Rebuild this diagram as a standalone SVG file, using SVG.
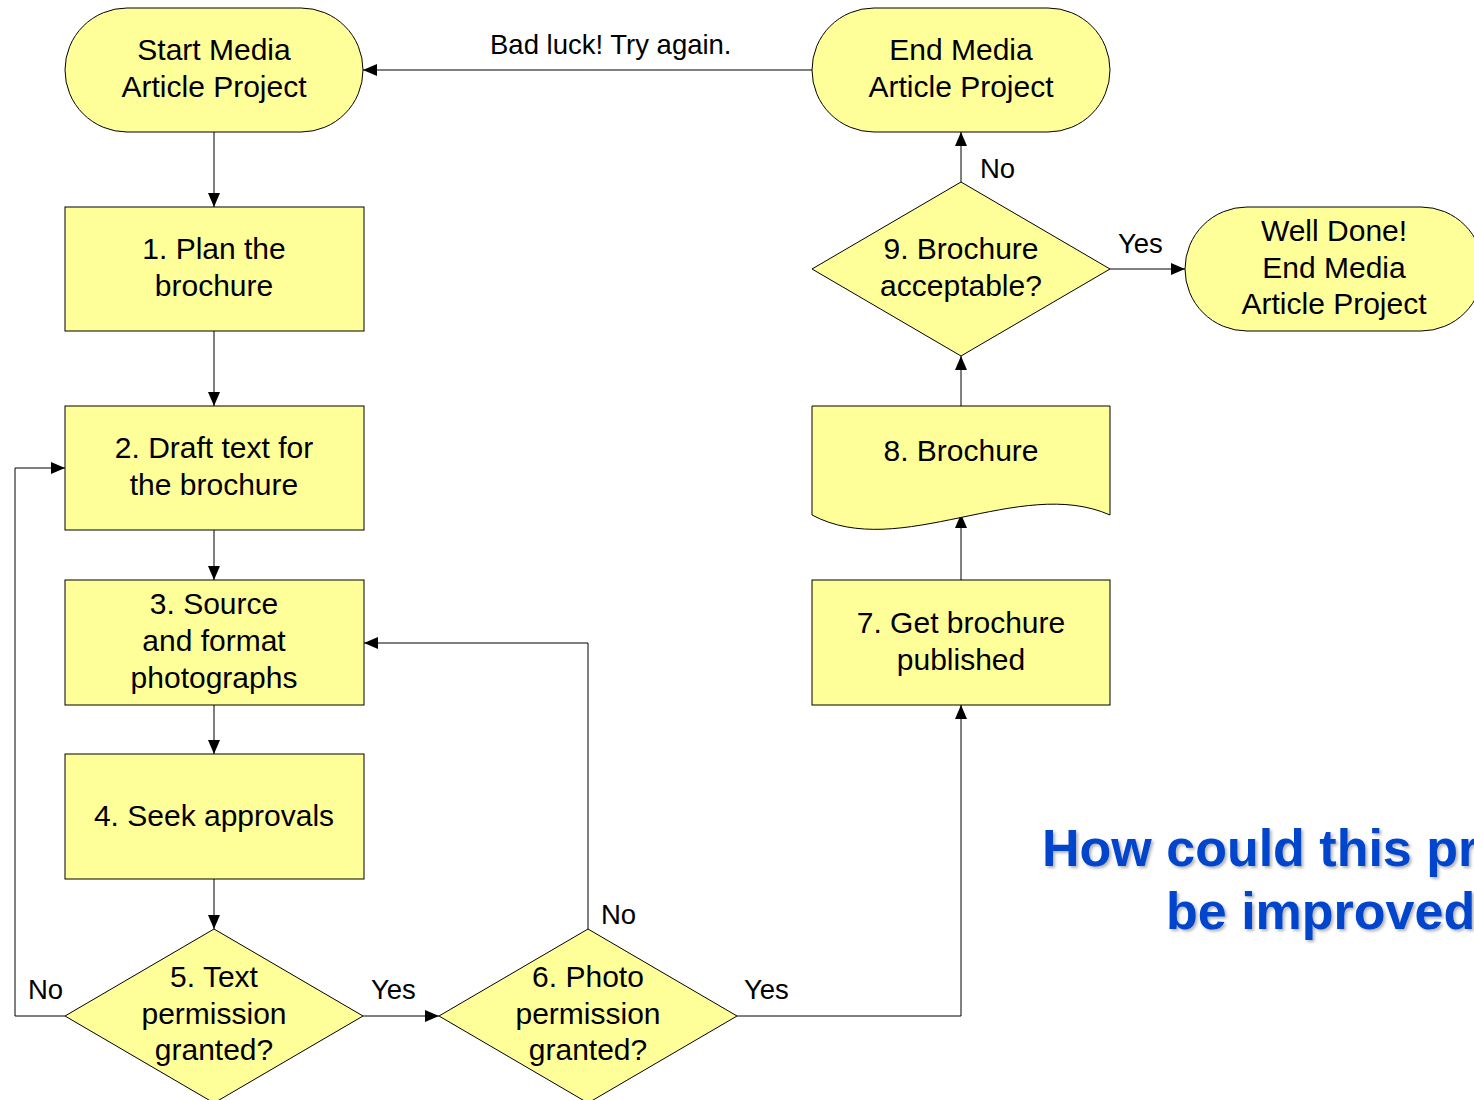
<svg xmlns="http://www.w3.org/2000/svg" width="1474" height="1100" viewBox="0 0 1474 1100">
  <style>
    .shape { fill: #FFFF99; stroke: #000; stroke-width: 1; }
    .t { font-family: "Liberation Sans", Arial, sans-serif; font-size: 30px; fill: #000; text-anchor: middle; }
    .tn { font-family: "Liberation Sans", Arial, sans-serif; font-size: 30px; fill: #000; text-anchor: middle; }
    .lbl { font-family: "Liberation Sans", Arial, sans-serif; font-size: 27.5px; fill: #000; }
    .conn { fill: none; stroke: #000; stroke-width: 1; marker-end: url(#arrow); }
    .q { font-family: "Liberation Sans", Arial, sans-serif; font-size: 52px; font-weight: bold; fill: #0044CC; }
  </style>
  <defs>
    <marker id="arrow" markerUnits="userSpaceOnUse" markerWidth="14" markerHeight="12" refX="14" refY="6" orient="auto">
      <path d="M0,0 L14,6 L0,12 Z" fill="#000"/>
    </marker>
    <filter id="shadow" x="-5%" y="-20%" width="110%" height="140%">
      <feDropShadow dx="2" dy="2" stdDeviation="1.5" flood-color="#000" flood-opacity="0.3"/>
    </filter>
  </defs>
  <rect width="1474" height="1100" fill="#fff"/>

  <!-- connectors -->
  <g id="connectors">
    <path class="conn" d="M214,132 V207"/>
    <path class="conn" d="M214,331 V406"/>
    <path class="conn" d="M214,530 V580"/>
    <path class="conn" d="M214,705 V754"/>
    <path class="conn" d="M214,879 V929"/>
    <path class="conn" d="M65,1016 H15 V468 H65"/>
    <path class="conn" d="M363,1016 H439"/>
    <path class="conn" d="M588,929 V643 H364"/>
    <path class="conn" d="M737,1016 H961 V705"/>
    <path class="conn" d="M961,580 V514"/>
    <path class="conn" d="M961,406 V356"/>
    <path class="conn" d="M961,182 V132"/>
    <path class="conn" d="M1110,269 H1185"/>
    <path class="conn" d="M812,70 H363"/>
    <text class="lbl" x="490" y="54">Bad luck! Try again.</text>
    <text class="lbl" x="28" y="999">No</text>
    <text class="lbl" x="371" y="999">Yes</text>
    <text class="lbl" x="601" y="924">No</text>
    <text class="lbl" x="744" y="999">Yes</text>
    <text class="lbl" x="980" y="178">No</text>
    <text class="lbl" x="1118" y="253">Yes</text>
  </g>

  <g id="start">
    <rect class="shape" x="65" y="8" width="298" height="124" rx="62" ry="62"/>
    <text class="t" x="214" y="60">Start Media</text>
    <text class="t" x="214" y="97">Article Project</text>
  </g>

  <g id="end">
    <rect class="shape" x="812" y="8" width="298" height="124" rx="62" ry="62"/>
    <text class="t" x="961" y="60">End Media</text>
    <text class="t" x="961" y="97">Article Project</text>
  </g>

  <g id="well-done">
    <rect class="shape" x="1185" y="207" width="298" height="124" rx="62" ry="62"/>
    <text class="t" x="1334" y="241">Well Done!</text>
    <text class="t" x="1334" y="278">End Media</text>
    <text class="t" x="1334" y="314">Article Project</text>
  </g>

  <g id="step1">
    <rect class="shape" x="65" y="207" width="299" height="124"/>
    <text class="t" x="214" y="259">1. Plan the</text>
    <text class="t" x="214" y="296">brochure</text>
  </g>

  <g id="step2">
    <rect class="shape" x="65" y="406" width="299" height="124"/>
    <text class="t" x="214" y="458">2. Draft text for</text>
    <text class="t" x="214" y="495">the brochure</text>
  </g>

  <g id="step3">
    <rect class="shape" x="65" y="580" width="299" height="125"/>
    <text class="t" x="214" y="614">3. Source</text>
    <text class="t" x="214" y="651">and format</text>
    <text class="t" x="214" y="688">photographs</text>
  </g>

  <g id="step4">
    <rect class="shape" x="65" y="754" width="299" height="125"/>
    <text class="t" x="214" y="826">4. Seek approvals</text>
  </g>

  <g id="step5">
    <path class="shape" d="M214,929 L363,1016 L214,1103 L65,1016 Z"/>
    <text class="tn" x="214" y="987">5. Text</text>
    <text class="tn" x="214" y="1024">permission</text>
    <text class="tn" x="214" y="1060">granted?</text>
  </g>

  <g id="step6">
    <path class="shape" d="M588,929 L737,1016 L588,1103 L439,1016 Z"/>
    <text class="tn" x="588" y="987">6. Photo</text>
    <text class="tn" x="588" y="1024">permission</text>
    <text class="tn" x="588" y="1060">granted?</text>
  </g>

  <g id="step7">
    <rect class="shape" x="812" y="580" width="298" height="125"/>
    <text class="t" x="961" y="633">7. Get brochure</text>
    <text class="t" x="961" y="670">published</text>
  </g>

  <g id="step8">
    <path class="shape" d="M812,406 H1110 V515 C1020,475 900,562 812,515 Z"/>
    <text class="t" x="961" y="461">8. Brochure</text>
  </g>

  <g id="step9">
    <path class="shape" d="M961,182 L1110,269 L961,356 L812,269 Z"/>
    <text class="t" x="961" y="259">9. Brochure</text>
    <text class="t" x="961" y="296">acceptable?</text>
  </g>

  <g id="question" filter="url(#shadow)">
    <text class="q" x="1042" y="866">How could this process</text>
    <text class="q" x="1166" y="929">be improved?</text>
  </g>
</svg>
